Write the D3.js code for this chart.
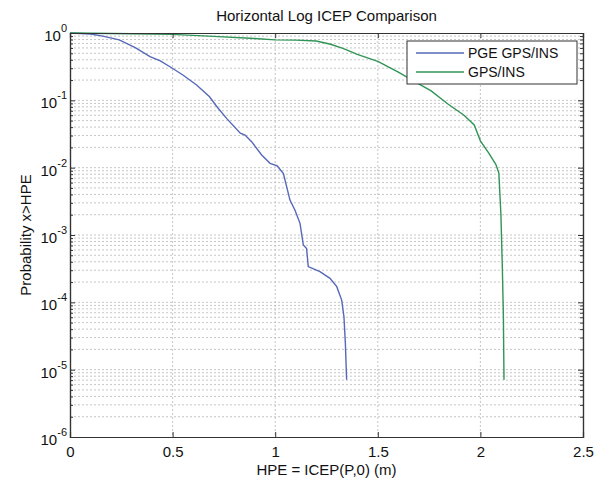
<!DOCTYPE html>
<html lang="en">
    <head>
        <meta charset="utf-8">
        <title>Horizontal Log ICEP Comparison</title>
        <script src="https://d3js.org/d3.v7.min.js"></script>
        <style type="text/css">
        body { margin: 0; background: #fff; }
        text { font-family: "Liberation Sans", Arial, sans-serif; fill: #111; }
        .title { font-size: 15px; }
        .label { font-size: 15px; }
        .tick text { font-size: 15px; }
        .grid line { stroke: #b8b8b8; stroke-width: 0.8; stroke-dasharray: 2,2; }
        </style>
    </head>
    <body>
    <div id="vis"></div>
    <script type="text/javascript">

        // PGE GPS/INS curve
        const pgeX = [0, 0.1, 0.16, 0.24, 0.32, 0.39, 0.44, 0.495, 0.55, 0.617, 0.68, 0.715, 0.763, 0.83, 0.853, 0.885,
                      0.934, 0.975, 1.01, 1.04, 1.072, 1.096, 1.121, 1.137, 1.153, 1.161, 1.218, 1.267, 1.3, 1.324,
                      1.335, 1.342, 1.348];
        const pgeP = [1, 0.965, 0.90, 0.79, 0.60, 0.445, 0.385, 0.305, 0.238, 0.169, 0.113, 0.081, 0.054, 0.0325, 0.0305, 0.0243,
                      0.0154, 0.0116, 0.0106, 0.0082, 0.0033, 0.00235, 0.00149, 0.00071, 0.00063, 0.00034, 0.000285, 0.000227, 0.000171, 0.000108,
                      0.0000612, 0.0000246, 0.0000071];
        // GPS/INS curve
        const gpsX = [0, 0.3, 0.5, 0.7, 0.9, 1.0, 1.1, 1.2, 1.27, 1.33, 1.4, 1.5, 1.6, 1.68, 1.76, 1.84,
                      1.92, 1.97, 2.0, 2.04, 2.075, 2.09, 2.1, 2.107, 2.112, 2.115];
        const gpsP = [1, 0.977, 0.955, 0.89, 0.83, 0.79, 0.785, 0.76, 0.68, 0.59, 0.48, 0.38, 0.263, 0.19, 0.138, 0.089,
                      0.06, 0.043, 0.025, 0.0166, 0.0112, 0.0083, 0.002, 0.00032, 0.000063, 0.0000071];

        const seriesNames = ["PGE GPS/INS", "GPS/INS"];
        const seriesColors = ["#5668b9", "#2f9455"];
        const xTicks = [0, 0.5, 1, 1.5, 2, 2.5];
        const yExps = [0, -1, -2, -3, -4, -5, -6];

        const width = 609, height = 479;
        const mLeft = 70, mRight = 583, mTop = 33, mBottom = 437;

        const xScale = d3.scaleLinear().domain([0, 2.5]).range([mLeft, mRight]);
        const yScale = d3.scaleLog().domain([1e-6, 1]).range([mBottom, mTop]);

        const svg = d3.select("#vis")
                      .append("svg")
                      .attr("width", width)
                      .attr("height", height);

        // minor values for log grid
        const minorVals = [];
        yExps.slice(0, -1).forEach(e => {
            for (let m = 2; m <= 9; m++) minorVals.push(m * Math.pow(10, e - 1));
        });
        const majorVals = yExps.map(e => Math.pow(10, e));

        // grid
        const grid = svg.append("g").attr("class", "grid");
        grid.selectAll(".hg")
            .data(minorVals.concat(majorVals.slice(1, -1)))
            .enter().append("line")
            .attr("x1", mLeft).attr("x2", mRight)
            .attr("y1", d => yScale(d)).attr("y2", d => yScale(d));
        grid.selectAll(".vg")
            .data(xTicks.slice(1, -1))
            .enter().append("line")
            .attr("x1", d => xScale(d)).attr("x2", d => xScale(d))
            .attr("y1", mTop).attr("y2", mBottom);

        // curves
        const line = d3.line().x(d => xScale(d[0])).y(d => yScale(d[1]));
        const series = [d3.zip(pgeX, pgeP), d3.zip(gpsX, gpsP)];
        svg.selectAll(".curve")
           .data(series)
           .enter().append("path")
           .attr("d", line)
           .attr("fill", "none")
           .attr("stroke", (d, i) => seriesColors[i])
           .attr("stroke-width", 1.4);

        // axes (ticks inward)
        const bottomAxis = d3.axisBottom(xScale).tickValues(xTicks).tickSize(-5).tickPadding(9)
                             .tickFormat(d => d);
        const topAxis = d3.axisTop(xScale).tickValues(xTicks).tickSize(-5).tickFormat("");
        const leftAxis = d3.axisLeft(yScale).tickValues(majorVals).tickSize(-5).tickFormat("");
        const rightAxis = d3.axisRight(yScale).tickValues(majorVals).tickSize(-5).tickFormat("");
        const leftMinor = d3.axisLeft(yScale).tickValues(minorVals).tickSize(-3).tickFormat("");
        const rightMinor = d3.axisRight(yScale).tickValues(minorVals).tickSize(-3).tickFormat("");

        const axes = [
            [bottomAxis, "translate(0," + mBottom + ")"],
            [topAxis, "translate(0," + mTop + ")"],
            [leftAxis, "translate(" + mLeft + ",0)"],
            [rightAxis, "translate(" + mRight + ",0)"],
            [leftMinor, "translate(" + mLeft + ",0)"],
            [rightMinor, "translate(" + mRight + ",0)"]
        ];
        axes.forEach(a => {
            const g = svg.append("g").attr("transform", a[1]).call(a[0]);
            g.select(".domain").attr("stroke", "#333").attr("stroke-width", 1.2);
            g.selectAll(".tick line").attr("stroke", "#333");
            g.selectAll(".tick text").attr("fill", "#111");
        });

        // y tick labels 10^n
        const yLab = svg.append("g");
        yExps.forEach(e => {
            const t = yLab.append("text")
                          .attr("x", mLeft - 3)
                          .attr("y", yScale(Math.pow(10, e)) + 8)
                          .attr("text-anchor", "end")
                          .style("font-size", "15px");
            t.append("tspan").text("10");
            t.append("tspan").attr("dy", -9).style("font-size", "11px").text(e);
        });

        // title and labels
        svg.append("text")
           .attr("x", (mLeft + mRight) / 2).attr("y", 21)
           .attr("text-anchor", "middle")
           .attr("class", "title")
           .text("Horizontal Log ICEP Comparison");

        svg.append("text")
           .attr("x", (mLeft + mRight) / 2).attr("y", 475)
           .attr("text-anchor", "middle")
           .attr("class", "label")
           .text("HPE = ICEP(P,0) (m)");

        svg.append("text")
           .attr("x", -(mTop + mBottom) / 2).attr("y", 31)
           .attr("text-anchor", "middle")
           .attr("transform", "rotate(-90)")
           .attr("class", "label")
           .text("Probability x>HPE");

        // legend
        const lg = svg.append("g").attr("transform", "translate(407,41)");
        lg.append("rect").attr("width", 170).attr("height", 43)
          .attr("fill", "#fff").attr("stroke", "#333").attr("stroke-width", 1);
        seriesNames.forEach((name, i) => {
            lg.append("line")
              .attr("x1", 9).attr("x2", 57)
              .attr("y1", 12 + i * 19).attr("y2", 12 + i * 19)
              .attr("stroke", seriesColors[i]).attr("stroke-width", 1.4);
            lg.append("text")
              .attr("x", 61).attr("y", 17 + i * 19)
              .style("font-size", "14px")
              .text(name);
        });

    </script>
    </body>
</html>
